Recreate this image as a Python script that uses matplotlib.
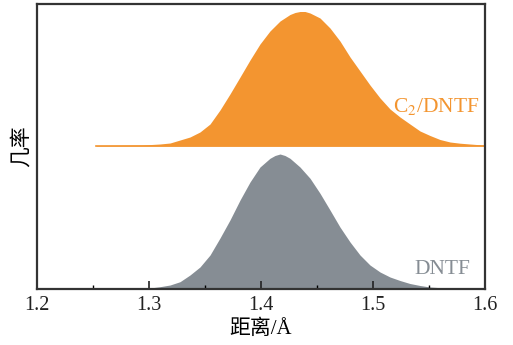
import matplotlib
matplotlib.use("Agg")
import matplotlib.pyplot as plt
from matplotlib.ticker import MultipleLocator

# C2/DNTF distribution (distance in Å, relative probability)
c2_x = [1.2527, 1.2946, 1.3098, 1.3188, 1.3277, 1.3366, 1.3455, 1.3545, 1.3634,
        1.3723, 1.3813, 1.3902, 1.3991, 1.4080, 1.4170, 1.4259, 1.4304, 1.4348,
        1.4393, 1.4438, 1.4527, 1.4616, 1.4705, 1.4795, 1.4884, 1.4973, 1.5063,
        1.5152, 1.5241, 1.5330, 1.5420, 1.5509, 1.5598, 1.5688, 1.5777, 1.5866,
        1.5982, 1.6000]
c2_y = [0.5, 1, 2, 3, 6, 9, 14, 22, 36, 52, 69, 86, 102, 115, 125, 131.5, 133.5,
        134.5, 134.5, 133, 128, 118, 105, 89, 75, 61, 48, 37, 29, 22, 15, 10.5,
        6.5, 4, 2.8, 2, 1, 1]

# DNTF distribution
dntf_x = [1.2920, 1.3009, 1.3098, 1.3188, 1.3277, 1.3366, 1.3455, 1.3545, 1.3634,
          1.3723, 1.3813, 1.3902, 1.3991, 1.4080, 1.4125, 1.4170, 1.4214, 1.4259,
          1.4348, 1.4438, 1.4527, 1.4616, 1.4705, 1.4795, 1.4884, 1.4973, 1.5063,
          1.5152, 1.5241, 1.5330, 1.5420, 1.5509, 1.5643, 1.5777]
dntf_y = [0, 1, 2.3, 4, 7.3, 14, 22, 34, 51, 69, 89, 107, 122, 130.7, 133.5, 135,
          133.5, 130.7, 122, 110.7, 95.7, 79, 62, 47, 34, 24, 17, 12, 8.5, 5.5,
          3.5, 2, 1, 0]

c2_offset = 143
x_ticks = [1.2, 1.3, 1.4, 1.5, 1.6]
x_tick_labels = ["1.2", "1.3", "1.4", "1.5", "1.6"]

orange = "#f39530"
gray = "#868d94"

fig = plt.figure(figsize=(5.13, 3.45), dpi=100)
ax = fig.add_axes([0.0721, 0.1623, 0.8733, 0.8261])

ax.fill_between(dntf_x, 0, dntf_y, color=gray, lw=0)
ax.fill_between(c2_x, c2_offset, [v + c2_offset for v in c2_y], color=orange, lw=0)
ax.plot([c2_x[0], c2_x[-1]], [c2_offset, c2_offset], color=orange, lw=1.2)

ax.set_xlim(1.2, 1.6)
ax.set_ylim(0, 285)
ax.set_xticks(x_ticks)
ax.set_xticklabels(x_tick_labels, family="Liberation Serif", fontsize=14.5)
ax.xaxis.set_minor_locator(MultipleLocator(0.05))
ax.tick_params(axis="x", which="major", direction="in", length=6, width=1.2, pad=5, colors="#222222")
ax.tick_params(axis="x", which="minor", direction="in", length=3, width=1.0)
ax.set_yticks([])
for s in ax.spines.values():
    s.set_linewidth(1.6)
    s.set_color("#333333")

ax.set_xlabel("距离/Å", family=["Liberation Serif", "Noto Sans CJK SC"], fontsize=15, labelpad=3)
ax.set_ylabel("几率", family=["Noto Sans CJK SC", "DejaVu Sans"], fontsize=15, labelpad=4)

ax.text(1.5955, 183, "C$_2$/DNTF", color=orange, family="Liberation Serif",
        fontsize=15.5, ha="right", va="center", math_fontfamily="stix")
ax.text(1.5866, 19.5, "DNTF", color=gray, family="Liberation Serif",
        fontsize=15.5, ha="right", va="center")

fig.savefig("out.png", dpi=100)
